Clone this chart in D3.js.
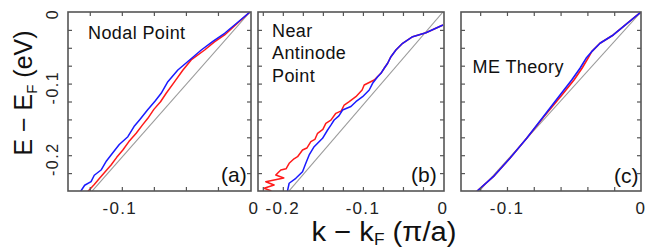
<!DOCTYPE html>
<html><head><meta charset="utf-8">
<script src="https://cdn.jsdelivr.net/npm/d3@7"></script>
<style>
body{margin:0;background:#fff}
svg{display:block;font-family:"Liberation Sans",Arial,Helvetica,sans-serif}
</style>
</head><body>
<svg id="chart" width="652" height="248"></svg>
<script>
// ---- data: [k - kF (pi/a), E - EF (eV)] ----
const nodalBlue = [[0,0],[-0.0100,-0.0150],[-0.0198,-0.0297],[-0.0290,-0.0410],[-0.0380,-0.0531],[-0.0471,-0.0670],[-0.0563,-0.0810],[-0.0641,-0.0973],[-0.0693,-0.1135],[-0.0740,-0.1243],[-0.0800,-0.1370],[-0.0862,-0.1508],[-0.0905,-0.1600],[-0.0953,-0.1742],[-0.1020,-0.1850],[-0.1084,-0.1997],[-0.1120,-0.2080],[-0.1162,-0.2207],[-0.1215,-0.2280],[-0.1240,-0.2370],[-0.1290,-0.2420],[-0.1318,-0.2496],[-0.1330,-0.2530]];
const nodalRed = [[0,0],[-0.0100,-0.0160],[-0.0198,-0.0321],[-0.0280,-0.0420],[-0.0354,-0.0531],[-0.0459,-0.0670],[-0.0523,-0.0810],[-0.0588,-0.0973],[-0.0654,-0.1135],[-0.0698,-0.1253],[-0.0750,-0.1360],[-0.0797,-0.1485],[-0.0840,-0.1580],[-0.0888,-0.1694],[-0.0945,-0.1810],[-0.0992,-0.1927],[-0.1040,-0.2030],[-0.1084,-0.2137],[-0.1130,-0.2230],[-0.1174,-0.2323],[-0.1215,-0.2410],[-0.1260,-0.2496],[-0.1275,-0.2530]];
const nodalBare = [[0,0],[-0.13,-0.264]];

const antiShared = [[0,-0.0182],[-0.0213,-0.0289],[-0.0379,-0.0345],[-0.0504,-0.0437],[-0.0588,-0.0531],[-0.0650,-0.0624],[-0.0691,-0.0716],[-0.0734,-0.0786],[-0.0775,-0.0856]];
const antiRedTail = [[-0.0859,-0.0950],[-0.0984,-0.1020],[-0.1010,-0.1090],[-0.1088,-0.1183],[-0.1171,-0.1253],[-0.1234,-0.1299],[-0.1270,-0.1380],[-0.1338,-0.1415],[-0.1400,-0.1510],[-0.1463,-0.1555],[-0.1500,-0.1640],[-0.1566,-0.1694],[-0.1600,-0.1780],[-0.1650,-0.1811],[-0.1700,-0.1900],[-0.1754,-0.1927],[-0.1816,-0.2021],[-0.1860,-0.2050],[-0.1921,-0.2113],[-0.1960,-0.2190],[-0.2025,-0.2207],[-0.2088,-0.2277],[-0.1988,-0.2318],[-0.2213,-0.2370],[-0.2109,-0.2416],[-0.2234,-0.2462],[-0.2150,-0.2496],[-0.2200,-0.2530]];
const antiBlueTail = [[-0.0816,-0.0904],[-0.0879,-0.0996],[-0.0921,-0.1089],[-0.1004,-0.1183],[-0.1088,-0.1253],[-0.1150,-0.1320],[-0.1254,-0.1369],[-0.1300,-0.1450],[-0.1359,-0.1508],[-0.1400,-0.1580],[-0.1441,-0.1648],[-0.1504,-0.1764],[-0.1609,-0.1881],[-0.1671,-0.1997],[-0.1713,-0.2113],[-0.1754,-0.2230],[-0.1838,-0.2323],[-0.1921,-0.2392],[-0.1941,-0.2496],[-0.1945,-0.2530]];
const antiBare = [[0,0],[-0.2,-0.26]];

const theoryBlue = [[0,0],[-0.0207,-0.0321],[-0.0306,-0.0437],[-0.0368,-0.0554],[-0.0410,-0.0647],[-0.0455,-0.0786],[-0.0517,-0.0950],[-0.0604,-0.1159],[-0.0729,-0.1462],[-0.0853,-0.1764],[-0.0978,-0.2043],[-0.1102,-0.2300],[-0.1214,-0.2486],[-0.1235,-0.2530]];
const theoryRed = [[0,0],[-0.0207,-0.0321],[-0.0306,-0.0437],[-0.0368,-0.0554],[-0.0396,-0.0647],[-0.0440,-0.0786],[-0.0500,-0.0950],[-0.0590,-0.1159],[-0.0725,-0.1462],[-0.0853,-0.1764],[-0.0978,-0.2043],[-0.1102,-0.2300],[-0.1214,-0.2486],[-0.1235,-0.2530]];
const theoryBare = [[0,0],[-0.125,-0.259]];

const panelTitles = [["Nodal Point"],["Near","Antinode","Point"],["ME Theory"]];
const panelTags = ["(a)","(b)","(c)"];
const xLabelTicks = [[-0.1,0],[-0.2,-0.1,0],[-0.1,0]];
const xMinorStep = [0.025,0.025,0.02];
const yLabelTicks = [0,-0.1,-0.2];
const yMinorTicks = [-0.025,-0.05,-0.075,-0.1,-0.125,-0.15,-0.175,-0.2,-0.225];

// ---- layout ----
const svg = d3.select("#chart");
const y = d3.scaleLinear().domain([-0.25,0]).range([191,12]);
const panels = [
  {x: d3.scaleLinear().domain([-0.142,0]).range([68,250]), x0:68, x1:251,
   lines:[[nodalBare,"#9a9a9a",1.1],[nodalRed,"#ff1a1a",1.5],[nodalBlue,"#1a1aff",1.5]]},
  {x: d3.scaleLinear().domain([-0.231,0]).range([258,443]), x0:258, x1:444,
   lines:[[antiBare,"#9a9a9a",1.1],[antiShared.concat(antiRedTail),"#ff1a1a",1.5],[antiShared.concat(antiBlueTail),"#1a1aff",1.5]]},
  {x: d3.scaleLinear().domain([-0.1343,0]).range([461,641]), x0:461, x1:641,
   lines:[[theoryBare,"#9a9a9a",1.1],[theoryRed,"#ff1a1a",1.6],[theoryBlue,"#1a1aff",1.6]]}
];
const titlePos = [[88,38.5,22],[272,36.7,22.5],[472.5,72.5,22]];
const tagPos = [[221,181.5],[411,181.5],[614,182.5]];
const labelDx = [[-2,4],[0,0,0],[0,0]];
const fmt = d => d===0 ? "0" : d3.format(".1f")(d).replace("\u2212","-");

const defs = svg.append("defs");
panels.forEach((p,i)=>{
  defs.append("clipPath").attr("id","clip"+i).append("rect")
    .attr("x",p.x0).attr("y",12).attr("width",p.x1-p.x0).attr("height",179);

  const g = svg.append("g");
  const lg = g.append("g").attr("clip-path","url(#clip"+i+")");
  p.lines.forEach(([data,col,w])=>{
    lg.append("path").datum(data)
      .attr("d", d3.line().x(d=>p.x(d[0])).y(d=>y(d[1])))
      .attr("fill","none").attr("stroke",col).attr("stroke-width",w)
      .attr("stroke-linejoin","round");
  });

  const xt = d3.range(0, p.x.domain()[0]-1e-9, -xMinorStep[i]).filter(v=>v<0);
  const tickAxis = (axis, tx, ty) => {
    const a = g.append("g").attr("transform",`translate(${tx},${ty})`).call(axis);
    a.select(".domain").remove();
    a.selectAll("line").attr("stroke","#555").attr("stroke-width",1.2);
    a.selectAll("text").remove();
  };
  tickAxis(d3.axisBottom(p.x).tickValues(xt).tickSize(4).tickFormat(""),0,12);
  tickAxis(d3.axisTop(p.x).tickValues(xt).tickSize(4).tickFormat(""),0,191);
  tickAxis(d3.axisRight(y).tickValues(yMinorTicks).tickSize(4).tickFormat(""),p.x0,0);
  tickAxis(d3.axisLeft(y).tickValues(yMinorTicks).tickSize(4).tickFormat(""),p.x1,0);

  g.append("rect").attr("x",p.x0).attr("y",12).attr("width",p.x1-p.x0).attr("height",179)
    .attr("fill","none").attr("stroke","#555").attr("stroke-width",1.6);

  g.selectAll("text.xl").data(xLabelTicks[i]).join("text")
    .attr("x",(d,j)=>p.x(d)+labelDx[i][j]).attr("y",214)
    .attr("text-anchor","middle").attr("font-size",17).attr("letter-spacing","1.3px")
    .attr("fill","#222").text(fmt);

  const [tx,ty,lh] = titlePos[i];
  panelTitles[i].forEach((t,j)=>{
    g.append("text").attr("x",tx).attr("y",ty+j*lh).attr("font-size",18)
      .attr("letter-spacing","0.4px").attr("fill","#111").text(t);
  });
  g.append("text").attr("x",tagPos[i][0]).attr("y",tagPos[i][1]).attr("font-size",21).attr("fill","#111").text(panelTags[i]);
});

// y tick labels (rotated)
svg.selectAll("text.yl").data(yLabelTicks).join("text")
  .attr("transform",d=>`translate(58,${y(d)+(d<0?4:2)}) rotate(-90)`)
  .attr("text-anchor","middle").attr("font-size",16).attr("letter-spacing","1.5px")
  .attr("fill","#222").text(fmt);

// axis titles
const yt = svg.append("text").attr("transform","translate(32,93) rotate(-90)")
  .attr("text-anchor","middle").attr("font-size",25).attr("fill","#111");
yt.append("tspan").text("E \u2212 E");
yt.append("tspan").attr("font-size",15).attr("dy",5).text("F");
yt.append("tspan").attr("dy",-5).text(" (eV)");

const xtl = svg.append("text").attr("transform","translate(384,241) scale(1.08,1)")
  .attr("text-anchor","middle").attr("font-size",27).attr("fill","#111");
xtl.append("tspan").text("k \u2212 k");
xtl.append("tspan").attr("font-size",16).attr("dy",4).text("F");
xtl.append("tspan").attr("dy",-4).text(" (\u03c0/a)");
</script>
</body></html>
